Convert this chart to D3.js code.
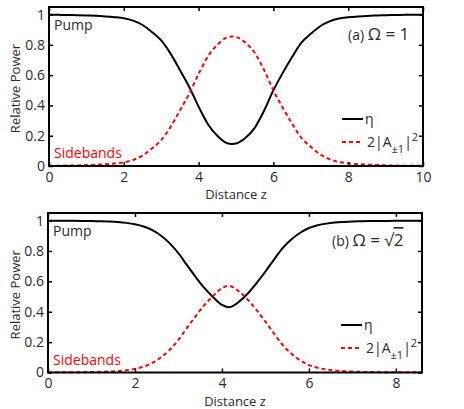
<!DOCTYPE html>
<html>
  <head>
    <meta http-equiv="Content-type" content="text/html; charset=utf-8">
    <title>Pump and sideband power</title>
    <script src="https://d3js.org/d3.v7.min.js"></script>
    <style>
      body { margin: 0; background: #fff; }
      text { font-family: "Open Sans", sans-serif; fill: #2b2b2b; }
    </style>
  </head>
  <body>
    <div id="chart"></div>
    <script type="text/javascript">
      // (a) Omega = 1
      var zA = [0, 0.25, 0.5, 0.75, 1, 1.25, 1.5, 1.75, 2, 2.25, 2.5, 2.75, 3, 3.25, 3.5, 3.75,
        4, 4.25, 4.5, 4.75, 4.9, 5, 5.25, 5.5, 5.75, 6, 6.25, 6.5, 6.75, 7, 7.25, 7.5, 7.75,
        8, 8.25, 8.5, 8.75, 9, 9.25, 9.5, 9.75, 10];
      var pumpA = [0.9985, 0.998, 0.997, 0.996, 0.994, 0.9915, 0.988, 0.983, 0.976, 0.96, 0.931,
        0.885, 0.829, 0.742, 0.634, 0.522, 0.392, 0.276, 0.2, 0.152, 0.145, 0.148, 0.185, 0.252,
        0.365, 0.5, 0.615, 0.72, 0.815, 0.873, 0.923, 0.955, 0.974, 0.982, 0.987, 0.991, 0.9935,
        0.9955, 0.997, 0.998, 0.9985, 0.999];
      var sideA = [0.0015, 0.002, 0.003, 0.004, 0.006, 0.0085, 0.012, 0.017, 0.024, 0.04, 0.069,
        0.115, 0.171, 0.258, 0.366, 0.478, 0.608, 0.724, 0.8, 0.848, 0.855, 0.852, 0.815, 0.748,
        0.635, 0.5, 0.385, 0.28, 0.185, 0.127, 0.077, 0.045, 0.026, 0.018, 0.013, 0.009, 0.0065,
        0.0045, 0.003, 0.002, 0.0015, 0.001];

      // (b) Omega = sqrt(2)
      var zB = [0, 0.2, 0.4, 0.6, 0.8, 1, 1.2, 1.4, 1.6, 1.8, 2, 2.2, 2.4, 2.6, 2.8, 3, 3.2, 3.4,
        3.6, 3.8, 4, 4.15, 4.2, 4.4, 4.6, 4.8, 5, 5.2, 5.4, 5.6, 5.8, 6, 6.2, 6.4, 6.6, 6.8, 7,
        7.2, 7.4, 7.6, 7.8, 8, 8.2, 8.4, 8.6];
      var pumpB = [0.999, 0.9988, 0.9986, 0.9982, 0.9976, 0.9968, 0.9955, 0.9935, 0.9905, 0.985,
        0.976, 0.961, 0.937, 0.9, 0.85, 0.785, 0.705, 0.627, 0.555, 0.495, 0.445, 0.43, 0.432,
        0.468, 0.522, 0.59, 0.665, 0.745, 0.82, 0.877, 0.92, 0.951, 0.969, 0.98, 0.987, 0.991,
        0.994, 0.9955, 0.997, 0.9975, 0.998, 0.9985, 0.9988, 0.999, 0.999];
      var sideB = [0.001, 0.0012, 0.0014, 0.0018, 0.0024, 0.0032, 0.0045, 0.0065, 0.0095, 0.015,
        0.024, 0.039, 0.063, 0.1, 0.15, 0.215, 0.295, 0.373, 0.445, 0.505, 0.555, 0.57, 0.568,
        0.532, 0.478, 0.41, 0.335, 0.255, 0.18, 0.123, 0.08, 0.049, 0.031, 0.02, 0.013, 0.009,
        0.006, 0.0045, 0.003, 0.0025, 0.002, 0.0015, 0.0012, 0.001, 0.001];

      var yTicks = [0, 0.2, 0.4, 0.6, 0.8, 1];
      var yTickLabels = ['0', '0.2', '0.4', '0.6', '0.8', '1'];
      var xTicksA = [0, 2, 4, 6, 8, 10];
      var xTicksB = [0, 2, 4, 6, 8];

      var width = 464, height = 409;
      var svg = d3.select('#chart').append('svg')
        .attr('width', width).attr('height', height);

      function panel(o) {
        var x = d3.scaleLinear().domain([0, o.xMax]).range([o.left, o.right]);
        var y = d3.scaleLinear().domain([0, 1.05]).range([o.bottom, o.top]);
        var g = svg.append('g');

        var line = d3.line()
          .x(function(d) { return x(d[0]); })
          .y(function(d) { return y(d[1]); })
          .curve(d3.curveMonotoneX);

        g.append('path')
          .attr('d', line(d3.zip(o.z, o.pump)))
          .attr('fill', 'none').attr('stroke', '#000').attr('stroke-width', 2);
        g.append('path')
          .attr('d', line(d3.zip(o.z, o.side)))
          .attr('fill', 'none').attr('stroke', '#f00').attr('stroke-width', 2)
          .attr('stroke-dasharray', '4,3');

        // axes, ticks pointing inwards on all four sides
        var bottomAxis = d3.axisBottom(x).tickValues(o.xTicks).tickSizeInner(-4)
          .tickSizeOuter(0).tickPadding(6).tickFormat(d3.format('d'));
        var topAxis = d3.axisTop(x).tickValues(o.xTicks).tickSizeInner(-4)
          .tickSizeOuter(0).tickFormat('');
        var leftAxis = d3.axisLeft(y).tickValues(yTicks).tickSizeInner(-4)
          .tickSizeOuter(0).tickPadding(4)
          .tickFormat(function(d, i) { return yTickLabels[i]; });
        var rightAxis = d3.axisRight(y).tickValues(yTicks).tickSizeInner(-4)
          .tickSizeOuter(0).tickFormat('');

        [[bottomAxis, 'translate(0,' + o.bottom + ')'],
         [topAxis, 'translate(0,' + o.top + ')'],
         [leftAxis, 'translate(' + o.left + ',0)'],
         [rightAxis, 'translate(' + o.right + ',0)']].forEach(function(a) {
          var ax = g.append('g').attr('transform', a[1]).call(a[0]);
          ax.select('.domain').remove();
          ax.selectAll('line').attr('stroke', '#000').attr('stroke-width', 1.5);
          ax.selectAll('text').style('font-family', '"Open Sans", sans-serif')
            .style('font-size', '14px').attr('fill', '#2b2b2b');
        });

        g.append('rect')
          .attr('x', o.left).attr('y', o.top)
          .attr('width', o.right - o.left).attr('height', o.bottom - o.top)
          .attr('fill', 'none').attr('stroke', '#000').attr('stroke-width', 2);

        g.append('text')
          .attr('x', (o.left + o.right) / 2).attr('y', o.bottom + 33)
          .attr('text-anchor', 'middle').style('font-size', '13px')
          .text('Distance z');
        g.append('text')
          .attr('transform', 'translate(20,' + ((o.top + o.bottom) / 2 + 2) + ') rotate(-90)')
          .attr('text-anchor', 'middle').style('font-size', '13px')
          .text('Relative Power');

        g.append('text').attr('x', o.left + 5).attr('y', o.top + 23)
          .style('font-size', '14px').text('Pump');
        g.append('text').attr('x', o.left + 5).attr('y', o.bottom - 8)
          .style('font-size', '14px').style('fill', '#f00').text('Sidebands');

        // panel label
        var lab = g.append('text').attr('x', o.labelX).attr('y', o.top + 33)
          .style('font-size', '14px');
        lab.append('tspan').text(o.tag + ' ');
        lab.append('tspan').style('font-size', '17px').text('\u03A9 = ');
        if (o.root) {
          lab.append('tspan').style('font-size', '17px').text('\u221A');
          lab.append('tspan').style('font-size', '17px')
            .style('text-decoration', 'overline').text(o.omega);
        } else {
          lab.append('tspan').style('font-size', '17px').text(o.omega);
        }

        // legend
        var lx = o.right - 81, ly1 = o.top + 112, ly2 = o.top + 135;
        g.append('line').attr('x1', lx).attr('x2', lx + 21).attr('y1', ly1).attr('y2', ly1)
          .attr('stroke', '#000').attr('stroke-width', 2);
        g.append('text').attr('x', lx + 23).attr('y', ly1 + 5)
          .style('font-size', '14px').text('\u03B7');
        g.append('line').attr('x1', lx).attr('x2', lx + 21).attr('y1', ly2).attr('y2', ly2)
          .attr('stroke', '#f00').attr('stroke-width', 2).attr('stroke-dasharray', '4,3');
        var t = g.append('text').attr('x', lx + 25).attr('y', ly2 + 5)
          .style('font-size', '14px');
        t.append('tspan').text('2|A');
        t.append('tspan').attr('dy', 6).style('font-size', '11px').text('\u00B11');
        t.append('tspan').attr('dy', -6).text('|');
        t.append('tspan').attr('dy', -6).style('font-size', '11px').text('2');
      }

      panel({ left: 49, right: 423, top: 7, bottom: 166, xMax: 10,
        z: zA, pump: pumpA, side: sideA, xTicks: xTicksA,
        tag: '(a)', omega: '1', root: false, labelX: 348 });
      panel({ left: 48, right: 422, top: 213, bottom: 372.5, xMax: 8.6,
        z: zB, pump: pumpB, side: sideB, xTicks: xTicksB,
        tag: '(b)', omega: '2', root: true, labelX: 332 });
    </script>
  </body>
</html>
